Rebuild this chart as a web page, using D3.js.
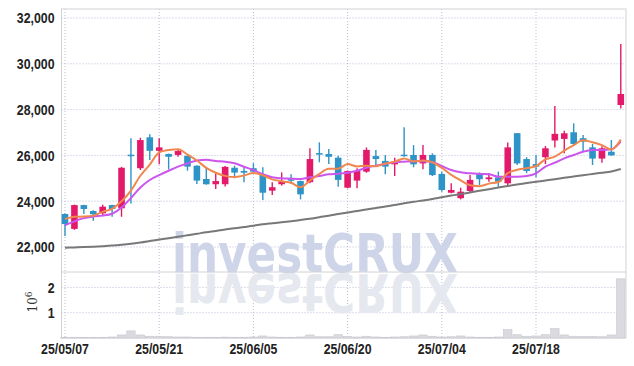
<!DOCTYPE html>
<html>
<head>
<meta charset="utf-8">
<script src="https://cdn.jsdelivr.net/npm/d3@7"></script>
<style>
  html, body { margin: 0; padding: 0; background: #fff; }
  .tick-label { font-family: "Liberation Sans Narrow", "Arial Narrow", "Liberation Sans", sans-serif; font-weight: 700; font-size: 15px; fill: #222; }
</style>
</head>
<body>
<div id="chart"></div>
<script>
const dates = ['25/05/07','25/05/08','25/05/09','25/05/12','25/05/13','25/05/14','25/05/15','25/05/16','25/05/19','25/05/20',
  '25/05/21','25/05/22','25/05/23','25/05/26','25/05/27','25/05/28','25/05/29','25/05/30','25/06/02','25/06/04',
  '25/06/05','25/06/09','25/06/10','25/06/11','25/06/12','25/06/13','25/06/16','25/06/17','25/06/18','25/06/19',
  '25/06/20','25/06/23','25/06/24','25/06/25','25/06/26','25/06/27','25/06/30','25/07/01','25/07/02','25/07/03',
  '25/07/04','25/07/07','25/07/08','25/07/09','25/07/10','25/07/11','25/07/14','25/07/15','25/07/16','25/07/17',
  '25/07/18','25/07/21','25/07/22','25/07/23','25/07/24','25/07/25','25/07/28','25/07/29','25/07/30','25/07/31'];

const open = [23440,22790,23830,23570,23470,23830,23690,26030,25440,26790,26200,26060,26020,25980,25550,24970,24740,24740,25460,25320,
  25440,25180,24460,24740,24960,24880,24830,26100,26060,25900,24590,24900,25290,25970,25760,25610,26030,26020,25650,26020,
  25190,24370,24130,24445,25220,24960,25040,24780,26970,25840,25620,25920,26650,26720,27010,26750,26350,25860,26160,28200];
const high = [23460,23850,23850,23610,23850,23840,25500,26750,26770,26920,26750,26080,26280,26000,25570,25500,25220,25540,25550,25510,
  25660,25480,24830,25260,25180,24900,26310,26570,26280,25990,25340,25440,26350,26240,26020,25900,27230,26450,26450,26090,
  25290,24780,24590,25140,25260,25220,25290,26560,26980,25920,26020,26410,28160,27080,27400,26890,26500,26400,26670,30870];
const low = [22480,22750,23440,23150,23400,23320,23320,23900,25360,25800,25610,25390,25940,25330,24750,24720,24530,24640,25000,24830,
  25230,24050,24270,24680,24750,24080,24780,25700,25625,24630,24560,24560,25240,25580,25180,25100,25940,25480,25400,25100,
  24410,24350,24080,24400,24710,24850,24630,24630,25580,25220,25050,25620,26350,26090,26410,26160,25580,25680,25990,28050];
const close = [23000,23830,23660,23430,23760,23660,25460,26000,26670,26200,26350,25940,26190,25510,24900,24740,24880,25500,25250,25245,
  25290,24370,24610,24850,24900,24300,25840,26080,25940,24930,25320,25320,26240,25840,25510,25730,26000,25610,26020,25140,
  24490,24490,24415,24930,24960,25040,24850,26350,25650,25320,25510,26310,26940,26965,26500,26600,25860,26310,26000,28680];
const volume = [30000,30000,20000,15000,20000,40000,120000,280000,120000,70000,70000,50000,40000,40000,30000,30000,30000,35000,30000,30000,
  40000,80000,40000,30000,30000,40000,120000,50000,50000,130000,60000,40000,70000,40000,30000,40000,50000,80000,120000,70000,
  40000,50000,80000,40000,30000,30000,40000,330000,130000,70000,80000,130000,370000,120000,70000,60000,60000,50000,120000,2340000];

const ma5 = [23220,23320,23330,23370,23536,23668,23994,24462,25110,25598,26136,26232,26270,26038,25778,25456,25244,25106,25054,25123,
  25233,25131,24953,24873,24804,24606,24900,25194,25412,25418,25622,25518,25550,25530,25646,25728,25864,25738,25774,25700,
  25452,25150,24911,24693,24657,24767,24839,25226,25370,25442,25536,25828,25946,26209,26445,26663,26573,26447,26254,26690];
const ma20 = [22950,23120,23260,23330,23370,23450,23720,24140,24600,24926,25140,25330,25507,25650,25780,25810,25756,25725,25655,25507,
  25362,25175,25044,25000,24983,24970,25044,25100,25175,25200,25245,25330,25463,25550,25625,25700,25725,25743,25743,25700,
  25537,25362,25262,25218,25190,25175,25070,25070,25070,25100,25218,25507,25681,25873,26018,26162,26236,26236,26266,26600];
const ma60 = [21970,21983,21996,22013,22035,22061,22096,22140,22197,22262,22328,22384,22445,22511,22576,22646,22699,22760,22821,22873,
  22926,22991,23035,23079,23127,23179,23231,23301,23363,23441,23511,23572,23642,23703,23764,23834,23908,23974,24031,24096,
  24175,24249,24315,24380,24454,24524,24594,24664,24729,24795,24847,24904,24961,25022,25079,25136,25188,25240,25301,25406];

const priceTicks = [22000, 24000, 26000, 28000, 30000, 32000];
const volTicks = [1000000, 2000000];
const dateTickIdx = [0, 10, 20, 30, 40, 50];

const W = 634, H = 366;
const plotL = 61.5, plotR = 626, plotT = 9, plotMid = 272, plotB = 338;

const svg = d3.select('#chart').append('svg').attr('width', W).attr('height', H);
svg.append('rect').attr('width', W).attr('height', H).attr('fill', '#fff');

const x = d3.scaleBand().domain(d3.range(dates.length)).range([60.3, 625.5]).paddingInner(0).paddingOuter(0);
const cx = i => x(i) + x.bandwidth() / 2;
const y = d3.scaleLinear().domain([20908, 32393]).range([plotMid, plotT]);
const yv = d3.scaleLinear().domain([0, 2610000]).range([plotB, plotMid]);

const gridColor = '#b9bdd6';
const grid = svg.append('g');
priceTicks.forEach(t => grid.append('line').attr('x1', plotL).attr('x2', plotR).attr('y1', y(t)).attr('y2', y(t)));
volTicks.forEach(t => grid.append('line').attr('x1', plotL).attr('x2', plotR).attr('y1', yv(t)).attr('y2', yv(t)));
dateTickIdx.forEach(i => grid.append('line').attr('x1', cx(i)).attr('x2', cx(i)).attr('y1', plotT).attr('y2', plotB));
grid.selectAll('line').attr('stroke', gridColor).attr('stroke-width', 1).attr('stroke-dasharray', '1,2');

// watermark + mirrored reflection
const mark = (yy, fill, flip) => svg.append('text').attr('x', 315).attr('y', yy).attr('text-anchor', 'middle')
  .attr('transform', flip ? 'scale(1,-1)' : null)
  .attr('font-family', 'DejaVu Sans, sans-serif').attr('font-weight', 700).attr('font-size', 54)
  .attr('textLength', 286).attr('lengthAdjust', 'spacingAndGlyphs')
  .attr('fill', fill).text('investCRUX');
mark(272, '#cfd5e8', false);
mark(-274, '#e6e8f0', true);

// frame
const frame = svg.append('g').attr('fill', 'none').attr('stroke', '#d2d2d6').attr('stroke-width', 1);
frame.append('rect').attr('x', plotL).attr('y', plotT).attr('width', plotR - plotL).attr('height', plotB - plotT);
frame.append('line').attr('x1', plotL).attr('x2', plotR).attr('y1', plotMid).attr('y2', plotMid);

// volume bars
svg.append('g').selectAll('rect').data(volume).join('rect')
  .attr('x', (d, i) => x(i) + 0.5).attr('width', x.bandwidth() - 1)
  .attr('y', d => yv(d)).attr('height', d => plotB - yv(d))
  .attr('fill', '#dadae0').attr('stroke', '#c6c6ce').attr('stroke-width', 0.6);

// candles
const up = '#e3196a', down = '#2e93c6';
const bw = x.bandwidth() * 0.7;
const candles = svg.append('g').selectAll('g').data(dates).join('g');
candles.append('line')
  .attr('x1', (d, i) => cx(i)).attr('x2', (d, i) => cx(i))
  .attr('y1', (d, i) => y(high[i])).attr('y2', (d, i) => y(low[i]))
  .attr('stroke', (d, i) => close[i] >= open[i] ? up : down).attr('stroke-width', 1.4);
candles.append('rect')
  .attr('x', (d, i) => cx(i) - bw / 2).attr('width', bw)
  .attr('y', (d, i) => y(Math.max(open[i], close[i])))
  .attr('height', (d, i) => Math.max(1.5, Math.abs(y(open[i]) - y(close[i]))))
  .attr('fill', (d, i) => close[i] >= open[i] ? up : down);

// moving averages
const line = d3.line().x((d, i) => cx(i)).y(d => y(d)).curve(d3.curveMonotoneX);
svg.append('path').attr('d', line(ma60)).attr('fill', 'none').attr('stroke', '#787878').attr('stroke-width', 2);
svg.append('path').attr('d', line(ma20)).attr('fill', 'none').attr('stroke', '#cc55ee').attr('stroke-width', 2);
svg.append('path').attr('d', line(ma5)).attr('fill', 'none').attr('stroke', '#f0874f').attr('stroke-width', 2);

// axes labels (condensed look)
const squeeze = sel => sel.attr('class', 'tick-label').each(function () {
  const w = this.getComputedTextLength();
  d3.select(this).attr('textLength', w * 0.82).attr('lengthAdjust', 'spacingAndGlyphs');
});
const yAxis = d3.axisLeft(y).tickValues(priceTicks).tickFormat(d3.format(',')).tickSize(0).tickPadding(7);
svg.append('g').attr('transform', `translate(${plotL},0)`).call(yAxis)
  .call(g => g.select('.domain').remove())
  .selectAll('text').call(squeeze);
const vAxis = d3.axisLeft(yv).tickValues(volTicks).tickFormat(d => d / 1e6).tickSize(0).tickPadding(7);
svg.append('g').attr('transform', `translate(${plotL},0)`).call(vAxis)
  .call(g => g.select('.domain').remove())
  .selectAll('text').call(squeeze);
const xAxis = d3.axisBottom(x).tickValues(dateTickIdx).tickFormat(i => dates[i]).tickSize(0).tickPadding(5);
svg.append('g').attr('transform', `translate(0,${plotB})`).call(xAxis)
  .call(g => g.select('.domain').remove())
  .selectAll('text').call(squeeze);

const unit = svg.append('text').attr('transform', 'translate(37,302) rotate(-90)').attr('text-anchor', 'middle')
  .attr('font-family', 'DejaVu Serif, serif').attr('font-size', 12).attr('fill', '#333');
unit.append('tspan').text('10');
unit.append('tspan').attr('dy', -5).attr('font-size', 9).text('6');
</script>
</body>
</html>
